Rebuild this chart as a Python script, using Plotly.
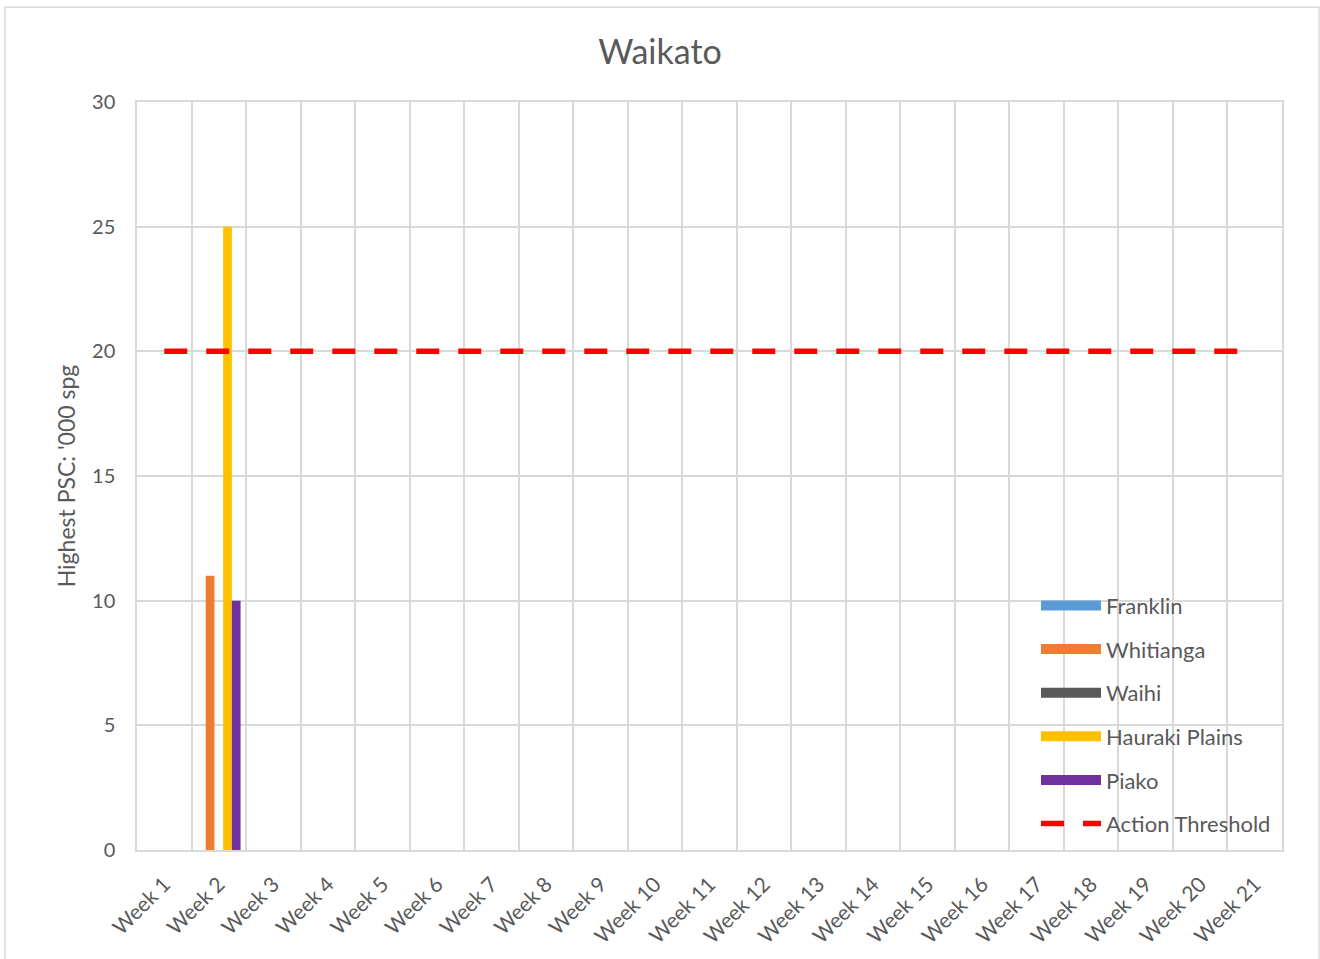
import plotly.graph_objects as go

weeks = [f"Week {i}" for i in range(1, 22)]
franklin = [None, 0] + [None] * 19
whitianga = [None, 11] + [None] * 19
waihi = [None, 0] + [None] * 19
hauraki = [None, 25] + [None] * 19
piako = [None, 10] + [None] * 19
threshold = [20] * 21

series = [
    ("Franklin", franklin, "#5B9BD5"),
    ("Whitianga", whitianga, "#ED7D31"),
    ("Waihi", waihi, "#595959"),
    ("Hauraki Plains", hauraki, "#FFC000"),
    ("Piako", piako, "#7030A0"),
]

FONT = "Lato, 'Open Sans', sans-serif"
TXT = "#595959"
GRID = "#D9D9D9"

fig = go.Figure()
for i, (name, vals, col) in enumerate(series):
    fig.add_trace(go.Bar(x=weeks, y=vals, name=name, marker_color=col,
                         marker_line_width=0, showlegend=False))
    # legend entry drawn as a wide swatch
    fig.add_trace(go.Scatter(x=[weeks[0]], y=[None], name=name, mode="lines",
                             line=dict(color=col, width=13), legendgroup=f"g{i}",
                             hoverinfo="skip"))
fig.add_trace(go.Scatter(x=weeks, y=threshold, name="Action Threshold", mode="lines",
                         line=dict(color="#FF0000", width=5.5, dash="23px,19px"),
                         legendgroup="g5"))

fig.update_layout(
    width=1320, height=959,
    margin=dict(l=137, r=38, t=102, b=107),
    paper_bgcolor="white", plot_bgcolor="white",
    barmode="group", bargap=0.2, bargroupgap=0,
    font=dict(family=FONT, color=TXT, size=20),
    title=dict(text="Waikato", x=0.5, xanchor="center", y=1 - 52 / 959, yanchor="middle",
               font=dict(size=34, color=TXT, family=FONT)),
    legend=dict(x=(1036 - 137) / 1145, y=(852 - 586) / 750, xanchor="left", yanchor="top",
                bgcolor="rgba(0,0,0,0)", font=dict(size=22, color=TXT),
                traceorder="grouped", tracegroupgap=12, itemwidth=60),
    showlegend=True,
)
fig.update_xaxes(type="category", tickson="boundaries", showgrid=True, gridcolor=GRID,
                 gridwidth=1.5, tickangle=-45, ticks="", showline=True, linecolor=GRID,
                 linewidth=1.5, mirror=True, ticklabelstandoff=12,
                 tickfont=dict(size=21, color=TXT))
fig.update_yaxes(range=[0, 30], dtick=5, showgrid=True, gridcolor=GRID, gridwidth=1.5,
                 zeroline=False, showline=True, linecolor=GRID, linewidth=1.5, mirror=True,
                 ticks="", ticklabelstandoff=16, tickfont=dict(size=20, color=TXT),
                 title=dict(text="Highest PSC: '000 spg", font=dict(size=23, color=TXT),
                            standoff=10))

# outer chart border
fig.add_shape(type="rect", xref="paper", yref="paper",
              x0=(5 - 137) / 1145, x1=(1319 - 137) / 1145,
              y0=(852 - 965) / 750, y1=(852 - 7) / 750,
              line=dict(color=GRID, width=1.5), fillcolor="rgba(0,0,0,0)", layer="below")

fig.write_html("out.html", config={"displayModeBar": False},
               post_script="document.body.style.margin='0';")
